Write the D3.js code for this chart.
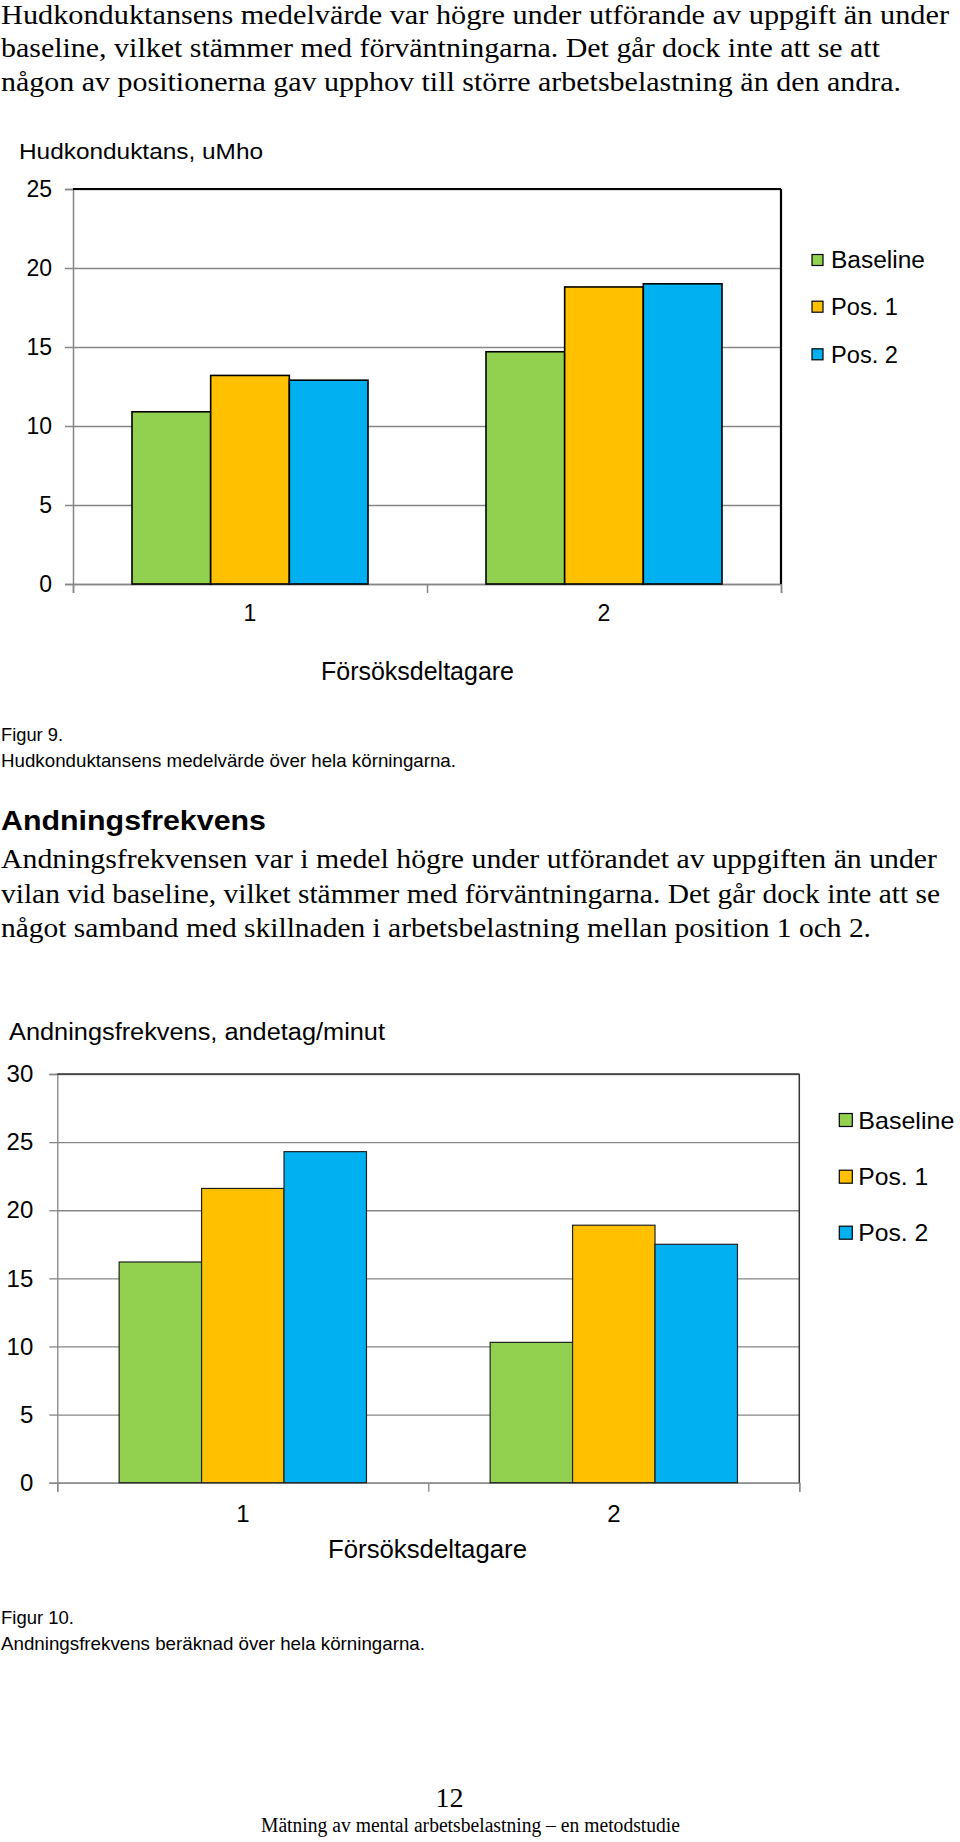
<!DOCTYPE html>
<html>
<head>
<meta charset="utf-8">
<script src="https://cdn.jsdelivr.net/npm/d3@7"></script>
<style>
  html, body { margin: 0; padding: 0; background: #fff; }
  svg { display: block; }
</style>
</head>
<body>
<svg id="page"></svg>
<script>
// data
const participants = ["1", "2"]
const seriesNames = ["Baseline", "Pos. 1", "Pos. 2"]
const seriesColors = ["#92D050", "#FFC000", "#00B0F0"]

// skin conductance, uMho
const skinBaseline = [10.9, 14.7]
const skinPos1 = [13.2, 18.8]
const skinPos2 = [12.9, 19.0]
const skinTicks = [0, 5, 10, 15, 20, 25]

// breathing rate, breaths/minute
const breathBaseline = [16.2, 10.3]
const breathPos1 = [21.6, 18.9]
const breathPos2 = [24.3, 17.5]
const breathTicks = [0, 5, 10, 15, 20, 25, 30]

const para1 = [
	"Hudkonduktansens medelvärde var högre under utförande av uppgift än under",
	"baseline, vilket stämmer med förväntningarna. Det går dock inte att se att",
	"någon av positionerna gav upphov till större arbetsbelastning än den andra.",
]
const para2 = [
	"Andningsfrekvensen var i medel högre under utförandet av uppgiften än under",
	"vilan vid baseline, vilket stämmer med förväntningarna. Det går dock inte att se",
	"något samband med skillnaden i arbetsbelastning mellan position 1 och 2.",
]

const W = 960, H = 1842
const svg = d3.select("#page").attr("width", W).attr("height", H)

const serif = "'Liberation Serif', 'DejaVu Serif', serif"
const sans = "'Liberation Sans', Arial, sans-serif"
const narrow = "'Liberation Sans Narrow', 'Liberation Sans', Arial, sans-serif"

// helper for fixed-width text lines
function txt(s, x, y, size, family, len, opts = {}) {
	const t = svg.append("text")
		.attr("x", x).attr("y", y)
		.attr("font-family", family)
		.attr("font-size", size)
		.attr("fill", opts.fill || "#000")
		.text(s)
	if (opts.weight) t.attr("font-weight", opts.weight)
	if (opts.anchor) t.attr("text-anchor", opts.anchor)
	if (len) t.attr("textLength", len).attr("lengthAdjust", "spacingAndGlyphs")
	return t
}

// body text
const p1Lens = [948, 879, 900]
const p1Y = [24, 57, 90.5]
para1.forEach((s, i) => txt(s, 1, p1Y[i], 27.5, serif, p1Lens[i]))

const p2Lens = [936, 939, 870]
para2.forEach((s, i) => txt(s, 1, 868 + i * 34.5, 28, serif, p2Lens[i]))

txt("Andningsfrekvens", 1, 830, 28, sans, 265, { weight: "bold" })

txt("Figur 9.", 1, 741, 19, narrow, 62)
txt("Hudkonduktansens medelvärde över hela körningarna.", 1, 767, 19, narrow, 455)
txt("Figur 10.", 1, 1624, 19, narrow, 73)
txt("Andningsfrekvens beräknad över hela körningarna.", 1, 1650, 19, narrow, 424)

txt("12", 449.5, 1807, 28, serif, null, { anchor: "middle" })
txt("Mätning av mental arbetsbelastning – en metodstudie", 261, 1832, 20, serif, 419)

function drawChart(cfg) {
	const g = svg.append("g")
	const { left, right, top, bottom } = cfg

	const y = d3.scaleLinear().domain([0, d3.max(cfg.ticks)]).range([bottom, top])
	const x0 = d3.scaleBand().domain(participants).range([left, right])
		.paddingInner(1 / 3).paddingOuter(1 / 6)
	const x1 = d3.scaleBand().domain(seriesNames).range([0, x0.bandwidth()])
	const xEdge = d3.scaleLinear().domain([0, participants.length]).range([left, right])

	// grid
	g.append("g")
		.attr("transform", `translate(${left},0)`)
		.call(d3.axisLeft(y).tickValues(cfg.ticks).tickSize(-(right - left)).tickFormat(""))
		.call((s) => s.select(".domain").remove())
		.call((s) => s.selectAll("line").attr("stroke", "#868686").attr("stroke-width", cfg.gridW))

	// y axis
	g.append("g")
		.attr("transform", `translate(${left},0)`)
		.call(d3.axisLeft(y).tickValues(cfg.ticks).tickSize(8).tickPadding(cfg.yPad))
		.call((s) => s.select(".domain").attr("stroke", "#868686").attr("stroke-width", cfg.gridW))
		.call((s) => s.selectAll("line").attr("stroke", "#868686").attr("stroke-width", cfg.gridW))
		.call((s) => s.selectAll("text")
			.attr("font-family", sans).attr("font-size", cfg.tickSize).attr("fill", "#000"))

	// bottom edge ticks
	g.append("g")
		.attr("transform", `translate(0,${bottom})`)
		.call(d3.axisBottom(xEdge).tickValues(d3.range(participants.length + 1)).tickSize(9).tickFormat(""))
		.call((s) => s.select(".domain").attr("stroke", "#868686").attr("stroke-width", cfg.gridW))
		.call((s) => s.selectAll("line").attr("stroke", "#868686").attr("stroke-width", cfg.gridW))

	// category labels
	g.append("g")
		.attr("transform", `translate(0,${bottom})`)
		.call(d3.axisBottom(x0).tickSize(0).tickPadding(cfg.xPad))
		.call((s) => s.select(".domain").remove())
		.call((s) => s.selectAll("text")
			.attr("font-family", sans).attr("font-size", cfg.tickSize).attr("fill", "#000"))

	// plot frame top / right
	const yTop = y(d3.max(cfg.ticks))
	g.append("line")
		.attr("x1", left).attr("x2", right).attr("y1", yTop).attr("y2", yTop)
		.attr("stroke", cfg.frame).attr("stroke-width", cfg.frameW)
	g.append("line")
		.attr("x1", right).attr("x2", right).attr("y1", top).attr("y2", bottom)
		.attr("stroke", cfg.frame).attr("stroke-width", cfg.frameW)

	// bars
	const rows = participants.map((p, i) => ({
		p,
		vals: cfg.series.map((arr, k) => ({ name: seriesNames[k], v: arr[i], c: seriesColors[k] })),
	}))
	g.selectAll(".grp")
		.data(rows)
		.join("g")
		.attr("transform", (d) => `translate(${x0(d.p)},0)`)
		.selectAll("rect")
		.data((d) => d.vals)
		.join("rect")
		.attr("x", (d) => x1(d.name))
		.attr("y", (d) => y(d.v))
		.attr("width", x1.bandwidth())
		.attr("height", (d) => bottom - y(d.v))
		.attr("fill", (d) => d.c)
		.attr("stroke", cfg.barStroke)
		.attr("stroke-width", cfg.barW)

	// titles
	txt(cfg.title, cfg.titleX, cfg.titleY, cfg.titleSize, sans, cfg.titleLen)
	txt("Försöksdeltagare", cfg.axX, cfg.axY, 25, sans, cfg.axLen)

	// legend
	const lg = g.append("g")
	seriesNames.forEach((name, k) => {
		const cy = cfg.legY[k]
		lg.append("rect")
			.attr("x", cfg.legX).attr("y", cy - cfg.legBox / 2)
			.attr("width", cfg.legBox).attr("height", cfg.legBox)
			.attr("fill", seriesColors[k]).attr("stroke", "#000").attr("stroke-width", 1.2)
		txt(name, cfg.legTextX, cy + cfg.legSize * 0.36, cfg.legSize, sans, cfg.legLens[k])
	})
}

drawChart({
	left: 73, right: 781, top: 189, bottom: 584,
	ticks: skinTicks,
	series: [skinBaseline, skinPos1, skinPos2],
	gridW: 1.5, frame: "#000", frameW: 2.2,
	barStroke: "#000", barW: 1.6,
	tickSize: 23, yPad: 13, xPad: 21,
	title: "Hudkonduktans, uMho", titleX: 19, titleY: 159, titleSize: 22, titleLen: 244,
	axX: 321, axY: 680, axLen: 193,
	legX: 812, legBox: 11, legY: [260, 306.7, 354.3], legTextX: 831, legSize: 23,
	legLens: [94, 67, 67],
})

drawChart({
	left: 57.3, right: 799.3, top: 1074, bottom: 1482.7,
	ticks: breathTicks,
	series: [breathBaseline, breathPos1, breathPos2],
	gridW: 1.3, frame: "#333", frameW: 1.5,
	barStroke: "#222", barW: 1.2,
	tickSize: 24, yPad: 16, xPad: 22,
	title: "Andningsfrekvens, andetag/minut", titleX: 9, titleY: 1040, titleSize: 23, titleLen: 376,
	axX: 328, axY: 1558, axLen: 199,
	legX: 839.3, legBox: 13, legY: [1120, 1176.7, 1232.7], legTextX: 858.3, legSize: 24,
	legLens: [96, 70, 70],
})
</script>
</body>
</html>
